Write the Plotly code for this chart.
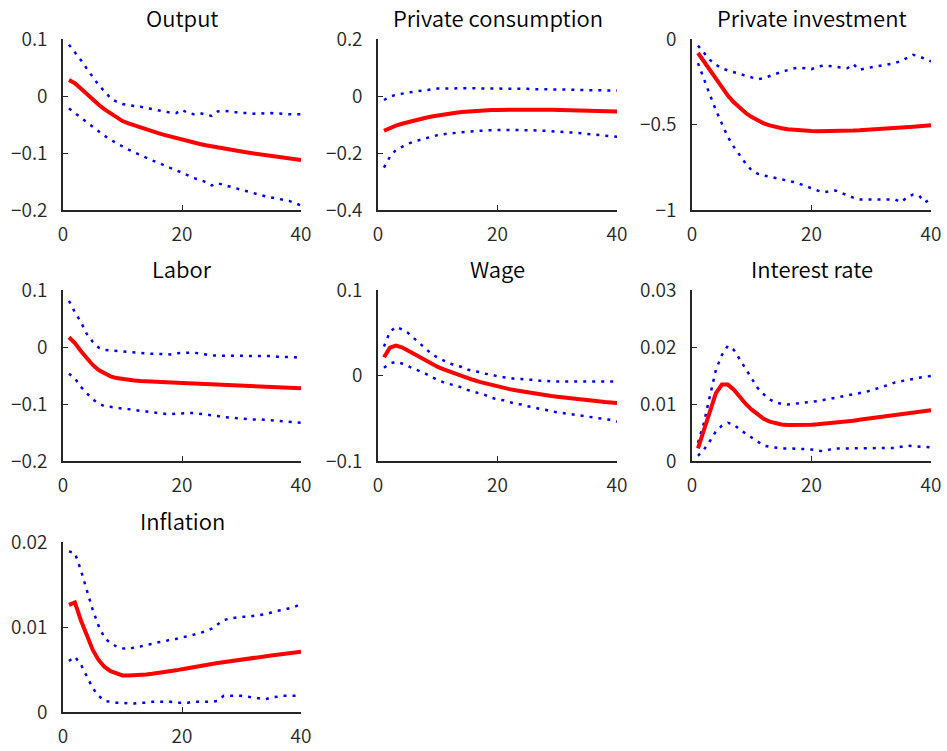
import plotly.graph_objects as go

# Horizon (quarters)
t = list(range(1, 41))

# ---- Impulse responses: median and error bands ----
output_mean = [0.0280, 0.0225, 0.0130, 0.0030, -0.0065, -0.0155, -0.0235, -0.0310, -0.0378, -0.0440,
               -0.0480, -0.0517, -0.0552, -0.0587, -0.0620, -0.0652, -0.0683, -0.0712, -0.0741, -0.0770,
               -0.0795, -0.0819, -0.0842, -0.0864, -0.0885, -0.0904, -0.0923, -0.0941, -0.0958, -0.0975,
               -0.0991, -0.1007, -0.1023, -0.1039, -0.1055, -0.1069, -0.1083, -0.1097, -0.1111, -0.1125]
output_upper = [0.090, 0.077, 0.063, 0.048, 0.034, 0.019, 0.008, -0.004, -0.010, -0.014,
                -0.016, -0.017, -0.019, -0.021, -0.023, -0.026, -0.027, -0.029, -0.030, -0.024,
                -0.030, -0.032, -0.030, -0.033, -0.035, -0.027, -0.026, -0.027, -0.029, -0.030,
                -0.030, -0.031, -0.030, -0.031, -0.030, -0.031, -0.031, -0.032, -0.032, -0.032]
output_lower = [-0.022, -0.030, -0.039, -0.047, -0.055, -0.062, -0.070, -0.077, -0.083, -0.088,
                -0.094, -0.099, -0.104, -0.109, -0.113, -0.117, -0.122, -0.126, -0.130, -0.135,
                -0.140, -0.144, -0.147, -0.151, -0.157, -0.153, -0.156, -0.159, -0.162, -0.165,
                -0.168, -0.171, -0.173, -0.176, -0.178, -0.180, -0.182, -0.184, -0.188, -0.192]

cons_mean = [-0.1220, -0.1120, -0.1040, -0.0975, -0.0915, -0.0860, -0.0810, -0.0763, -0.0720, -0.0680,
             -0.0645, -0.0615, -0.0588, -0.0565, -0.0545, -0.0528, -0.0514, -0.0503, -0.0494, -0.0487,
             -0.0482, -0.0479, -0.0477, -0.0476, -0.0476, -0.0477, -0.0479, -0.0482, -0.0485, -0.0488,
             -0.0492, -0.0496, -0.0501, -0.0506, -0.0511, -0.0516, -0.0522, -0.0528, -0.0534, -0.0540]
cons_upper = [-0.014, -0.002, 0.004, 0.009, 0.012, 0.015, 0.018, 0.021, 0.024, 0.026,
              0.026, 0.027, 0.027, 0.027, 0.027, 0.027, 0.026, 0.026, 0.026, 0.026,
              0.026, 0.025, 0.025, 0.025, 0.025, 0.024, 0.024, 0.024, 0.023, 0.023,
              0.023, 0.022, 0.022, 0.021, 0.021, 0.021, 0.020, 0.020, 0.019, 0.019]
cons_lower = [-0.251, -0.213, -0.189, -0.178, -0.168, -0.160, -0.154, -0.149, -0.142, -0.137,
              -0.134, -0.131, -0.129, -0.127, -0.125, -0.123, -0.122, -0.121, -0.120, -0.119,
              -0.119, -0.119, -0.119, -0.119, -0.119, -0.120, -0.121, -0.122, -0.123, -0.125,
              -0.126, -0.128, -0.129, -0.131, -0.133, -0.135, -0.137, -0.139, -0.141, -0.143]

inv_mean = [-0.0820, -0.1310, -0.1840, -0.2380, -0.2870, -0.3310, -0.3700, -0.4040, -0.4330, -0.4570,
            -0.4770, -0.4930, -0.5050, -0.5150, -0.5220, -0.5280, -0.5320, -0.5350, -0.5370, -0.5385,
            -0.5393, -0.5396, -0.5395, -0.5390, -0.5382, -0.5371, -0.5357, -0.5341, -0.5323, -0.5303,
            -0.5281, -0.5258, -0.5234, -0.5209, -0.5183, -0.5156, -0.5128, -0.5100, -0.5071, -0.5042]
inv_upper = [-0.039, -0.082, -0.122, -0.151, -0.171, -0.184, -0.195, -0.204, -0.214, -0.224,
             -0.235, -0.229, -0.215, -0.204, -0.192, -0.180, -0.172, -0.167, -0.170, -0.176,
             -0.162, -0.155, -0.158, -0.161, -0.166, -0.171, -0.147, -0.180, -0.172, -0.165,
             -0.158, -0.151, -0.146, -0.141, -0.128, -0.112, -0.092, -0.102, -0.115, -0.131]
inv_lower = [-0.141, -0.239, -0.327, -0.416, -0.494, -0.573, -0.631, -0.680, -0.729, -0.769,
             -0.788, -0.798, -0.806, -0.812, -0.818, -0.827, -0.836, -0.847, -0.860, -0.876,
             -0.886, -0.896, -0.890, -0.886, -0.900, -0.916, -0.928, -0.939, -0.939, -0.939,
             -0.937, -0.935, -0.937, -0.939, -0.955, -0.925, -0.910, -0.916, -0.955, -0.935]

labor_mean = [0.0170, 0.0070, -0.0070, -0.0200, -0.0315, -0.0405, -0.0470, -0.0515, -0.0545, -0.0565,
              -0.0578, -0.0588, -0.0596, -0.0603, -0.0609, -0.0614, -0.0619, -0.0624, -0.0628, -0.0632,
              -0.0637, -0.0641, -0.0646, -0.0650, -0.0655, -0.0660, -0.0664, -0.0669, -0.0673, -0.0678,
              -0.0683, -0.0687, -0.0692, -0.0696, -0.0701, -0.0706, -0.0710, -0.0715, -0.0719, -0.0724]
labor_upper = [0.081, 0.061, 0.044, 0.023, 0.009, -0.001, -0.005, -0.006, -0.006, -0.007,
               -0.008, -0.009, -0.010, -0.011, -0.012, -0.012, -0.013, -0.013, -0.011, -0.010,
               -0.010, -0.010, -0.011, -0.013, -0.015, -0.015, -0.016, -0.016, -0.016, -0.016,
               -0.016, -0.016, -0.016, -0.016, -0.016, -0.017, -0.017, -0.018, -0.018, -0.019]
labor_lower = [-0.047, -0.055, -0.070, -0.081, -0.092, -0.099, -0.104, -0.105, -0.107, -0.108,
               -0.109, -0.111, -0.112, -0.113, -0.115, -0.116, -0.117, -0.118, -0.117, -0.116,
               -0.116, -0.116, -0.117, -0.119, -0.120, -0.121, -0.123, -0.124, -0.125, -0.126,
               -0.126, -0.127, -0.127, -0.128, -0.129, -0.130, -0.131, -0.132, -0.132, -0.133]

wage_mean = [0.0214, 0.0325, 0.0350, 0.0330, 0.0293, 0.0253, 0.0212, 0.0170, 0.0132, 0.0100,
             0.0072, 0.0045, 0.0020, -0.0004, -0.0030, -0.0053, -0.0074, -0.0093, -0.0111, -0.0128,
             -0.0144, -0.0159, -0.0173, -0.0186, -0.0198, -0.0209, -0.0220, -0.0230, -0.0240, -0.0249,
             -0.0258, -0.0266, -0.0274, -0.0282, -0.0289, -0.0296, -0.0303, -0.0310, -0.0316, -0.0322]
wage_upper = [0.034, 0.051, 0.057, 0.054, 0.050, 0.044, 0.037, 0.031, 0.025, 0.021,
              0.017, 0.014, 0.012, 0.010, 0.007, 0.005, 0.004, 0.002, 0.001, -0.001,
              -0.002, -0.003, -0.004, -0.004, -0.005, -0.005, -0.006, -0.006, -0.007, -0.007,
              -0.007, -0.007, -0.007, -0.007, -0.007, -0.007, -0.007, -0.007, -0.007, -0.007]
wage_lower = [0.009, 0.014, 0.016, 0.014, 0.011, 0.008, 0.005, 0.002, -0.002, -0.005,
              -0.008, -0.010, -0.012, -0.014, -0.017, -0.019, -0.021, -0.023, -0.026, -0.028,
              -0.029, -0.031, -0.033, -0.034, -0.036, -0.037, -0.039, -0.040, -0.042, -0.043,
              -0.044, -0.045, -0.046, -0.047, -0.048, -0.049, -0.050, -0.051, -0.052, -0.054]

rate_mean = [0.00220, 0.00550, 0.00900, 0.01190, 0.01340, 0.01340, 0.01250, 0.01120, 0.01000, 0.00900,
             0.00810, 0.00740, 0.00690, 0.00660, 0.00640, 0.00633, 0.00630, 0.00630, 0.00632, 0.00636,
             0.00643, 0.00651, 0.00660, 0.00670, 0.00680, 0.00694, 0.00708, 0.00722, 0.00736, 0.00750,
             0.00764, 0.00778, 0.00792, 0.00806, 0.00820, 0.00834, 0.00848, 0.00862, 0.00876, 0.00890]
rate_upper = [0.0032, 0.0067, 0.0114, 0.0160, 0.0186, 0.0202, 0.0195, 0.0178, 0.0160, 0.0143,
              0.0128, 0.0117, 0.0108, 0.0103, 0.0100, 0.0099, 0.0100, 0.0101, 0.0102, 0.0103,
              0.0105, 0.0107, 0.0109, 0.0110, 0.0112, 0.0114, 0.0117, 0.0119, 0.0121, 0.0124,
              0.0127, 0.0131, 0.0134, 0.0138, 0.0140, 0.0143, 0.0145, 0.0146, 0.0148, 0.0149]
rate_lower = [0.0009, 0.0020, 0.0035, 0.0052, 0.0062, 0.0067, 0.0064, 0.0055, 0.0048, 0.0041,
              0.0033, 0.0027, 0.0025, 0.0023, 0.0022, 0.0022, 0.0022, 0.0022, 0.0021, 0.0020,
              0.0019, 0.0017, 0.0020, 0.0022, 0.0022, 0.0022, 0.0022, 0.0022, 0.0022, 0.0022,
              0.0022, 0.0022, 0.0023, 0.0023, 0.0025, 0.0027, 0.0026, 0.0025, 0.0024, 0.0024]

infl_mean = [0.01260, 0.01290, 0.01080, 0.00890, 0.00730, 0.00610, 0.00530, 0.00480, 0.00450, 0.00430,
             0.00428, 0.00430, 0.00435, 0.00442, 0.00450, 0.00458, 0.00467, 0.00476, 0.00490, 0.00504,
             0.00518, 0.00531, 0.00543, 0.00554, 0.00565, 0.00576, 0.00587, 0.00598, 0.00609, 0.00620,
             0.00629, 0.00638, 0.00647, 0.00656, 0.00665, 0.00674, 0.00683, 0.00692, 0.00701, 0.00710]
infl_upper = [0.0189, 0.0187, 0.0167, 0.0143, 0.0120, 0.0101, 0.0087, 0.0081, 0.0077, 0.0075,
              0.0074, 0.0076, 0.0077, 0.0079, 0.0080, 0.0082, 0.0083, 0.0085, 0.0086, 0.0088,
              0.0089, 0.0091, 0.0093, 0.0095, 0.0098, 0.0103, 0.0108, 0.0110, 0.0111, 0.0112,
              0.0112, 0.0113, 0.0114, 0.0115, 0.0117, 0.0119, 0.0120, 0.0122, 0.0124, 0.0127]
infl_lower = [0.0060, 0.0065, 0.0056, 0.0042, 0.0028, 0.0019, 0.0013, 0.0012, 0.0011, 0.0011,
              0.0010, 0.0010, 0.0011, 0.0011, 0.0012, 0.0012, 0.0012, 0.0012, 0.0011, 0.0011,
              0.0011, 0.0012, 0.0012, 0.0012, 0.0012, 0.0013, 0.0019, 0.0019, 0.0019, 0.0019,
              0.0018, 0.0017, 0.0016, 0.0015, 0.0017, 0.0018, 0.0019, 0.0019, 0.0019, 0.0019]

# ---- Panel titles and tick labels ----
titles = ["Output", "Private consumption", "Private investment",
          "Labor", "Wage", "Interest rate", "Inflation"]
x_ticks = [0, 20, 40]
x_ticktext = ["0", "20", "40"]
y_ticks = [
    [-0.2, -0.1, 0, 0.1],
    [-0.4, -0.2, 0, 0.2],
    [-1, -0.5, 0],
    [-0.2, -0.1, 0, 0.1],
    [-0.1, 0, 0.1],
    [0, 0.01, 0.02, 0.03],
    [0, 0.01, 0.02],
]
y_ticktext = [
    ["\u22120.2", "\u22120.1", "0", "0.1"],
    ["\u22120.4", "\u22120.2", "0", "0.2"],
    ["\u22121", "\u22120.5", "0"],
    ["\u22120.2", "\u22120.1", "0", "0.1"],
    ["\u22120.1", "0", "0.1"],
    ["0", "0.01", "0.02", "0.03"],
    ["0", "0.01", "0.02"],
]
means = [output_mean, cons_mean, inv_mean, labor_mean, wage_mean, rate_mean, infl_mean]
uppers = [output_upper, cons_upper, inv_upper, labor_upper, wage_upper, rate_upper, infl_upper]
lowers = [output_lower, cons_lower, inv_lower, labor_lower, wage_lower, rate_lower, infl_lower]

# ---- Grid geometry (pixels) ----
W, H = 947, 751
col_px = [(63, 301), (378, 617), (692, 931)]
row_px = [(39, 210), (290, 461), (542, 712)]

FONT = "Noto Sans CJK JP, Noto Sans, sans-serif"
AXIS_COLOR = "#262626"

fig = go.Figure()
layout = dict(
    width=W, height=H,
    margin=dict(l=0, r=0, t=0, b=0, autoexpand=False),
    paper_bgcolor="white", plot_bgcolor="white",
    showlegend=False,
    font=dict(family=FONT, color=AXIS_COLOR),
    annotations=[],
)

for i, name in enumerate(titles):
    r, c = divmod(i, 3)
    n = i + 1
    xref = "x" if n == 1 else f"x{n}"
    yref = "y" if n == 1 else f"y{n}"
    x0, x1 = col_px[c]
    y0, y1 = row_px[r]

    for band in (uppers[i], lowers[i]):
        fig.add_trace(go.Scatter(
            x=t, y=band, mode="lines", xaxis=xref, yaxis=yref,
            line=dict(color="#0000FF", width=2.5, dash="3px,6px"),
            hoverinfo="skip"))
    fig.add_trace(go.Scatter(
        x=t, y=means[i], mode="lines", xaxis=xref, yaxis=yref,
        line=dict(color="#FF0000", width=4), hoverinfo="skip"))

    xkey = "xaxis" if n == 1 else f"xaxis{n}"
    ykey = "yaxis" if n == 1 else f"yaxis{n}"
    common = dict(showgrid=False, zeroline=False, showline=True, automargin=False,
                  linecolor=AXIS_COLOR, linewidth=1.5,
                  ticks="inside", ticklen=5, tickwidth=1.2, tickcolor=AXIS_COLOR,
                  tickfont=dict(family=FONT, size=19, color=AXIS_COLOR, weight=350),
                  fixedrange=True)
    layout[xkey] = dict(common, domain=[x0 / W, x1 / W], anchor=yref,
                        range=[0, 40], tickmode="array",
                        tickvals=x_ticks, ticktext=x_ticktext,
                        ticklabelstandoff=6)
    layout[ykey] = dict(common, domain=[1 - y1 / H, 1 - y0 / H], anchor=xref,
                        range=[y_ticks[i][0], y_ticks[i][-1]], tickmode="array",
                        tickvals=y_ticks[i], ticktext=y_ticktext[i],
                        ticklabelstandoff=10)
    layout["annotations"].append(dict(
        text=name, xref="paper", yref="paper",
        x=(x0 + x1) / 2 / W, y=1 - y0 / H,
        xanchor="center", yanchor="bottom", yshift=4, showarrow=False,
        font=dict(family=FONT, size=22, color="black", weight=350)))

fig.update_layout(**layout)
fig.write_html("out.html")
